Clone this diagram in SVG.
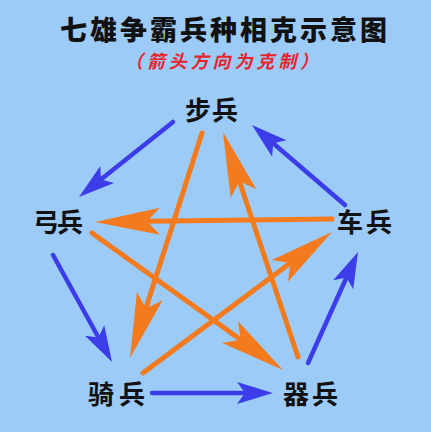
<svg xmlns="http://www.w3.org/2000/svg" width="431" height="432" viewBox="0 0 431 432">
<style>
.lbl{font-family:"Noto Sans CJK SC","Noto Sans",sans-serif;font-weight:700;font-size:26px;fill:#111;}
.title{font-family:"Noto Sans CJK SC","Noto Sans",sans-serif;font-weight:900;font-size:27px;fill:#111;}
.sub{font-family:"Noto Sans CJK SC","Noto Sans",sans-serif;font-weight:700;font-size:18px;font-style:italic;fill:#e8242c;}
.b{stroke:#3c3ce8;stroke-width:4.5;stroke-linecap:round;fill:none;marker-end:url(#hb);}
.o{stroke:#f47a1e;stroke-width:5;stroke-linecap:round;fill:none;marker-end:url(#ho);}
</style>
<defs>
<marker id="hb" markerUnits="userSpaceOnUse" orient="auto" refX="0" refY="0" markerWidth="40" markerHeight="30" overflow="visible">
<path d="M28,0 L-8,-11 L0,0 L-8,11 Z" fill="#3c3ce8"/>
</marker>
<marker id="ho" markerUnits="userSpaceOnUse" orient="auto" refX="0" refY="0" markerWidth="70" markerHeight="30" overflow="visible">
<path d="M52,0 L-13,-13.5 L0,0 L-13,13.5 Z" fill="#f47a1e"/>
</marker>
</defs>
<rect width="431" height="432" fill="#9ccbf7"/>
<g id="title">
<text class="title" x="60" y="40" textLength="327" lengthAdjust="spacing">七雄争霸兵种相克示意图</text>
<text class="sub" x="125" y="68" textLength="193" lengthAdjust="spacing">（箭头方向为克制）</text>
</g>
<g id="connectors">
<line class="o" x1="332" y1="219" x2="147" y2="221.3"/>
<line class="o" x1="92" y1="233" x2="240.75" y2="339.7"/>
<line class="o" x1="298" y1="357" x2="239.4" y2="181.3"/>
<line class="o" x1="202" y1="133" x2="145.85" y2="308.5"/>
<line class="o" x1="143" y1="373" x2="290.3" y2="263.1"/>
<line class="b" x1="173" y1="122" x2="100.9" y2="179.5"/>
<line class="b" x1="53" y1="255" x2="98.5" y2="337.5"/>
<line class="b" x1="152" y1="393" x2="245" y2="393"/>
<line class="b" x1="308" y1="363" x2="346.5" y2="277.5"/>
<line class="b" x1="345" y1="205" x2="273.2" y2="143.3"/>
</g>
<g id="infantry"><text class="lbl" x="185" y="120" textLength="53" lengthAdjust="spacing">步兵</text></g>
<g id="archer"><text class="lbl" x="33" y="232" textLength="50" lengthAdjust="spacing">弓兵</text></g>
<g id="chariot"><text class="lbl" x="337" y="232" textLength="55" lengthAdjust="spacing">车兵</text></g>
<g id="cavalry"><text class="lbl" x="88" y="404" textLength="57" lengthAdjust="spacing">骑兵</text></g>
<g id="siege"><text class="lbl" x="283" y="404" textLength="55" lengthAdjust="spacing">器兵</text></g>
</svg>
